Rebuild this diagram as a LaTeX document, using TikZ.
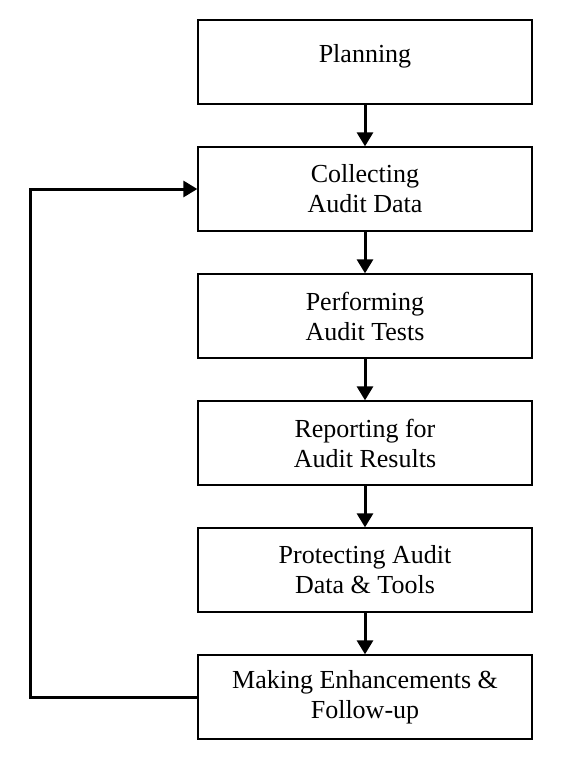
\documentclass[tikz,border=0pt]{standalone}
\usepackage{fontspec}
\setmainfont{Liberation Serif}
\usetikzlibrary{arrows.meta}
\begin{document}
\begin{tikzpicture}[x=1pt,y=-1pt,
  stage/.style={draw,line width=1.3pt,minimum width=334pt,minimum height=84pt,align=center,inner sep=0pt,font=\fontsize{26}{30}\selectfont},
  flow/.style={line width=3pt,-{Triangle[length=14pt,width=16pt]}}]
\useasboundingbox (0,0) rectangle (568,766);
\node[stage] (p) at (365,62) {};
\node[font=\fontsize{26}{30}\selectfont] (pt) at (365,56) {Planning};
\node[stage] (c) at (365,189) {Collecting\\Audit Data};
\node[stage] (t) at (365,316) {Performing\\Audit Tests};
\node[stage] (r) at (365,443) {Reporting for\\Audit Results};
\node[stage] (d) at (365,570) {Protecting Audit\\Data \& Tools};
\node[stage] (m) at (365,697) {Making Enhancements \&\\Follow-up};
\draw[flow] (p.south) -- (c.north);
\draw[flow] (c.south) -- (t.north);
\draw[flow] (t.south) -- (r.north);
\draw[flow] (r.south) -- (d.north);
\draw[flow] (d.south) -- (m.north);
\coordinate (lb) at (30,697);
\coordinate (lt) at (30,189);
\draw[flow] (m.west) -- (lb) -- (lt) -- (c.west);
\end{tikzpicture}
\end{document}
